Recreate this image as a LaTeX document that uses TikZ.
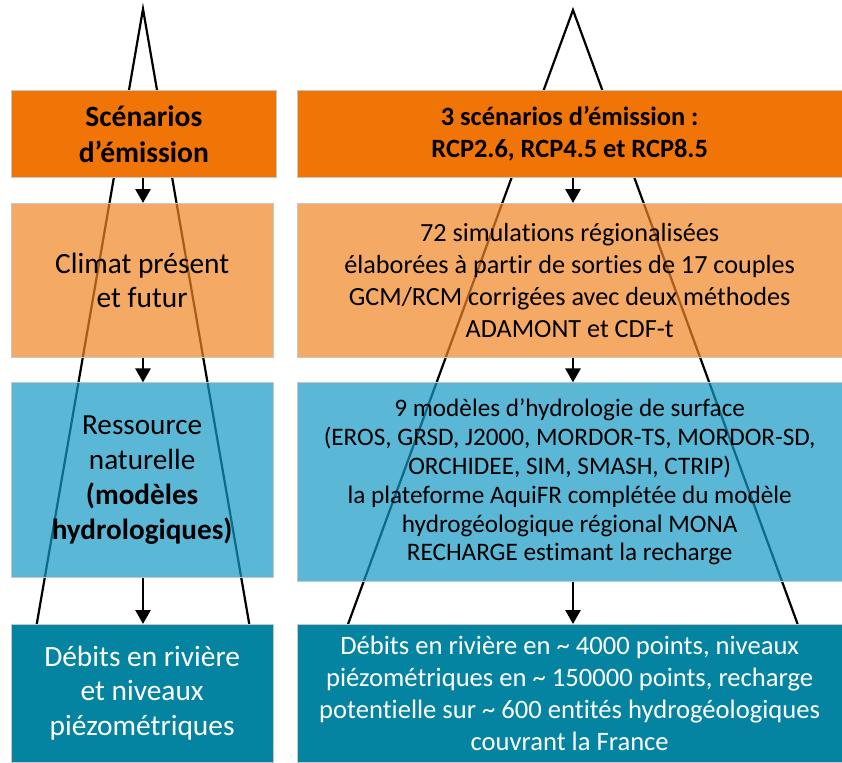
\documentclass[tikz,border=0pt]{standalone}
\usepackage{fontspec}
\setmainfont{Carlito}[Ligatures=NoCommon]
\usetikzlibrary{arrows.meta}
\definecolor{emis}{HTML}{F07406}
\definecolor{clim}{HTML}{EF8424}
\definecolor{ress}{HTML}{1598C4}
\definecolor{debit}{HTML}{0584A1}

\begin{document}
\begin{tikzpicture}[x=1pt,y=1pt,
      box/.style={draw=black!22,line width=.6pt,inner sep=0pt,align=center},
      lbox/.style={box,minimum width=262.3},
      rbox/.style={box,minimum width=544.7},
      soft/.style={fill opacity=.7,text opacity=1},
      bigtxt/.style={font=\fontsize{29.4}{34.5}\selectfont},
      smalltxt/.style={font=\fontsize{26.2}{32}\selectfont},
      flow/.style={-{Triangle[length=14pt,width=15pt]},line width=2.8pt,draw=black},
      cone/.style={line width=2.2pt,draw=black,line join=miter}]
    \useasboundingbox (0,0) rectangle (842,-762);
    \coordinate (topL) at (143,-9);
    \coordinate (topR) at (573,-10);
    \coordinate (baseL1) at (36.7,-624.3);
    \coordinate (baseL2) at (249.3,-624.3);
    \coordinate (baseR1) at (348,-624.3);
    \coordinate (baseR2) at (797.7,-624.3);
    \draw[cone] (baseL1) -- (topL) -- (baseL2);
    \draw[cone] (baseR1) -- (topR) -- (baseR2);
    \node[box,fill=emis,minimum width=265.7,minimum height=87.7,font=\fontsize{29.5}{36}\selectfont\bfseries] (scenL) at (143.85,-133.85) {Scénarios\\d’émission};
    \node[rbox,fill=emis,minimum height=87.7,font=\fontsize{26.4}{32}\selectfont\bfseries] (scenR) at (569.65,-133.85) {3 scénarios d’émission :\\RCP2.6, RCP4.5 et RCP8.5};
    \node[lbox,soft,fill=clim,minimum height=154,font=\fontsize{29.4}{34}\selectfont] (climL) at (142.15,-280.3) {Climat présent\\et futur};
    \node[rbox,soft,fill=clim,minimum height=154,smalltxt] (climR) at (569.65,-280.3) {72 simulations régionalisées\\élaborées à partir de sorties de 17 couples\\GCM/RCM corrigées avec deux méthodes\\ADAMONT et CDF-t};
    \node[lbox,soft,fill=ress,minimum height=195,font=\fontsize{29.2}{35}\selectfont] (ressL) at (142.15,-480.2) {Ressource\\naturelle\\\textbf{(modèles}\\\textbf{hydrologiques)}};
    \node[rbox,soft,fill=ress,minimum height=199,font=\fontsize{25.2}{28.8}\selectfont] (ressR) at (569.65,-482.2) {9 modèles d’hydrologie de surface\\(EROS, GRSD, J2000, MORDOR-TS, MORDOR-SD,\\ORCHIDEE, SIM, SMASH, CTRIP)\\la plateforme AquiFR complétée du modèle\\hydrogéologique régional MONA\\RECHARGE estimant la recharge};
    \node[lbox,fill=debit,minimum height=137.7,text=white,bigtxt] (debL) at (142.15,-693.15) {Débits en rivière\\et niveaux\\piézométriques};
    \node[rbox,fill=debit,minimum height=137.7,text=white,font=\fontsize{26.6}{32}\selectfont] (debR) at (569.65,-693.15) {Débits en rivière en \textasciitilde{} 4000 points, niveaux\\piézométriques en \textasciitilde{} 150000 points, recharge\\potentielle sur \textasciitilde{} 600 entités hydrogéologiques\\couvrant la France};
    \draw[flow] (scenL.south -| topL) -- (climL.north -| topL);
    \draw[flow] (climL.south -| topL) -- (ressL.north -| topL);
    \draw[flow] (ressL.south -| topL) -- (debL.north -| topL);
    \draw[flow] (scenR.south -| topR) -- (climR.north -| topR);
    \draw[flow] (climR.south -| topR) -- (ressR.north -| topR);
    \draw[flow] (ressR.south -| topR) -- (debR.north -| topR);
    \end{tikzpicture}
\end{document}
